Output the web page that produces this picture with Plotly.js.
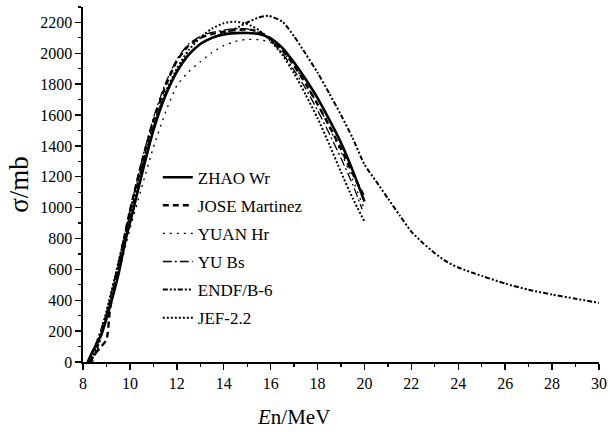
<!DOCTYPE html>
<html>
<head>
<meta charset="utf-8">
<script src="https://cdn.plot.ly/plotly-3.0.1.min.js"></script>
<style>
html,body{margin:0;padding:0;background:#fff;font-family:"Liberation Serif","DejaVu Serif",serif;}
#chart{width:610px;height:432px;}
#chart svg text{font-family:"Liberation Serif","DejaVu Serif",serif !important;}
</style>
</head>
<body>
<div id="chart"></div>
<script>
// Series names
const seriesNames = ["ZHAO Wr", "JOSE Martinez", "YUAN Hr", "YU Bs", "ENDF/B-6", "JEF-2.2"];

// ZHAO Wr
const zhaoX = [8.2,8.45,8.8,9.15,9.5,9.8,10.1,10.5,11,11.5,12,12.5,13,13.5,14,14.5,15,15.5,16,16.5,17,17.5,18,18.5,19,19.5,20];
const zhaoY = [0,80,185,360,560,780,960,1210,1500,1720,1880,1990,2060,2100,2122,2131,2132,2125,2097,2035,1940,1830,1710,1570,1420,1240,1040];

// JOSE Martinez
const joseX = [8.3,8.5,8.72,9.0,9.15,9.4,9.7,10,10.5,11,11.5,12,12.5,13,13.5,14,14.5,15,15.5,16,16.5,17,17.5,18,18.5,19,19.5,20];
const joseY = [0,50,90,145,340,530,760,980,1290,1560,1780,1950,2050,2100,2125,2140,2150,2155,2140,2095,2020,1920,1800,1670,1530,1380,1220,1070];

// YUAN Hr
const yuanX = [8.4,8.7,9,9.5,10,10.5,11,11.5,12,12.5,13,13.5,14,14.5,15,15.5,16,16.5,17,17.5,18,18.5,19,19.5,20];
const yuanY = [0,120,290,560,860,1130,1390,1610,1790,1880,1945,2005,2050,2078,2090,2088,2070,2010,1920,1800,1670,1520,1360,1180,990];

// YU Bs
const yubsX = [8.2,8.5,9,9.5,10,10.5,11,11.5,12,12.5,13,13.5,14,14.5,15,15.5,16,16.5,17,17.5,18,18.5,19,19.5,19.9];
const yubsY = [0,100,320,640,980,1300,1580,1800,1960,2060,2110,2135,2150,2160,2158,2135,2085,2000,1890,1770,1630,1480,1320,1150,990];

// ENDF/B-6
const endfX = [8.3,8.6,9,9.5,10,10.5,11,11.5,12,12.5,13,13.5,14,14.5,15,15.5,15.9,16.5,17,17.5,18,18.5,19,19.5,20,20.5,21,21.5,22,22.5,23,23.5,24,25,26,27,28,29,30];
const endfY = [0,90,300,610,940,1250,1520,1730,1880,1990,2060,2100,2130,2160,2200,2232,2243,2205,2110,1995,1875,1740,1600,1450,1280,1170,1060,950,845,770,705,650,612,558,508,468,437,410,383];

// JEF-2.2
const jefX = [8.3,8.6,9,9.5,10,10.5,11,11.5,12,12.5,13,13.5,14,14.5,15,15.5,16,16.5,17,17.5,18,18.5,19,19.5,20];
const jefY = [0,110,330,640,960,1260,1530,1740,1900,2020,2100,2160,2195,2205,2190,2150,2080,1990,1870,1730,1580,1410,1230,1060,910];

// X / Y tick values
const xTicks = [8,10,12,14,16,18,20,22,24,26,28,30];
const yTicks = [0,200,400,600,800,1000,1200,1400,1600,1800,2000,2200];

const xs = [zhaoX, joseX, yuanX, yubsX, endfX, jefX];
const ys = [zhaoY, joseY, yuanY, yubsY, endfY, jefY];
const styles = [
  {dash: "solid", width: 2.6},
  {dash: "6px,4px", width: 2.4},
  {dash: "2px,5px", width: 1.3},
  {dash: "9px,3px,2px,3px", width: 1.3},
  {dash: "5px,2px,2px,2px,2px,2px", width: 2.0},
  {dash: "2px,2px", width: 2.0}
];

const traces = seriesNames.map((n, i) => ({
  type: "scatter", mode: "lines", name: n,
  x: xs[i], y: ys[i],
  legendgroup: "g" + i,
  line: {color: "#000", dash: styles[i].dash, width: styles[i].width, shape: "spline", smoothing: 0.6}
}));

const font = "Liberation Serif";
const layout = {
  width: 610, height: 432,
  margin: {l: 83, r: 11, t: 7, b: 70},
  paper_bgcolor: "#fff", plot_bgcolor: "#fff",
  font: {family: font, size: 16, color: "#000"},
  showlegend: true,
  legend: {
    x: 0.145, y: 0.57, xanchor: "left", yanchor: "top",
    bgcolor: "rgba(0,0,0,0)", borderwidth: 0,
    font: {family: font, size: 17, color: "#000"},
    traceorder: "grouped", tracegroupgap: 3
  },
  xaxis: {
    range: [8, 30], tickvals: xTicks, ticktext: xTicks.map(String),
    showgrid: false, zeroline: false, showline: true, linecolor: "#000", linewidth: 1.6,
    ticks: "outside", ticklen: 6, tickwidth: 1.4, tickcolor: "#000",
    minor: {dtick: 1, tick0: 8, ticks: "outside", ticklen: 3, tickwidth: 1.2, tickcolor: "#000", showgrid: false},
    tickfont: {family: font, size: 16, color: "#000"}
  },
  yaxis: {
    range: [0, 2300], tickvals: yTicks, ticktext: yTicks.map(String),
    showgrid: false, zeroline: false, showline: true, linecolor: "#000", linewidth: 1.6,
    ticks: "outside", ticklen: 6, tickwidth: 1.4, tickcolor: "#000",
    minor: {dtick: 100, tick0: 0, ticks: "outside", ticklen: 3, tickwidth: 1.2, tickcolor: "#000", showgrid: false},
    tickfont: {family: font, size: 16, color: "#000"},
    title: {text: "σ/mb", font: {family: font, size: 27, color: "#000"}, standoff: 4}
  },
  annotations: [
    {text: "<i>E</i>n/MeV", xref: "paper", yref: "paper", x: (293 - 83) / 516, y: -0.155,
     xanchor: "center", yanchor: "middle", showarrow: false,
     font: {family: font, size: 21, color: "#000"}}
  ]
};

Plotly.newPlot("chart", traces, layout, {displayModeBar: false, staticPlot: true});
</script>
</body>
</html>
